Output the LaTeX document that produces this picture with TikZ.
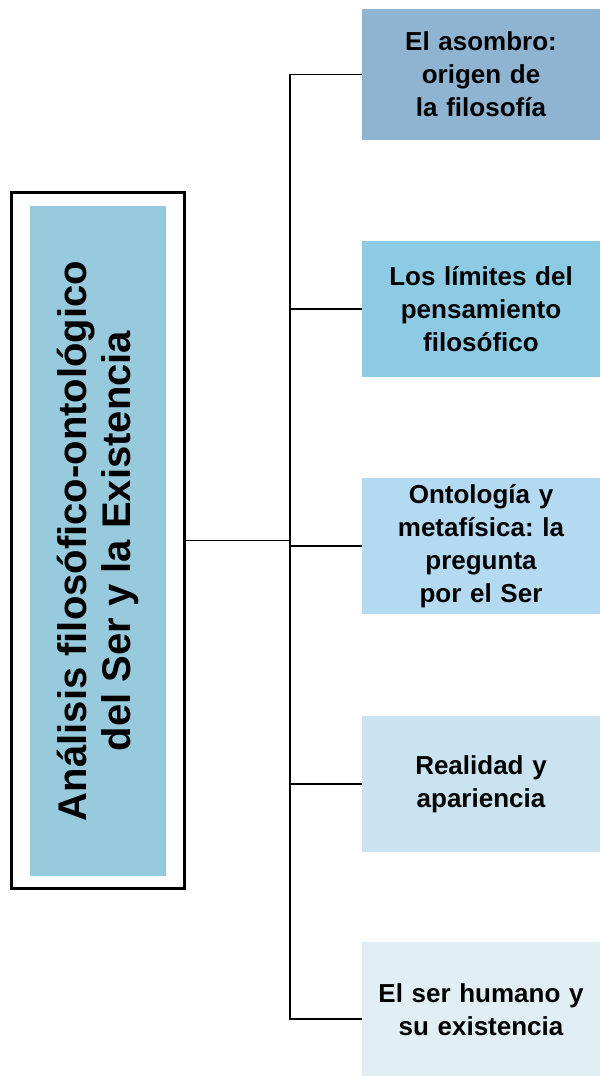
\documentclass[tikz,border=0pt]{standalone}
\usepackage{fontspec}
\setmainfont{Liberation Sans}
\usetikzlibrary{calc}
\usetikzlibrary{positioning}
\frenchspacing

\definecolor{titulofondo}{HTML}{98CADD}
\definecolor{temauno}{HTML}{8EB4D2}
\definecolor{temados}{HTML}{8DCAE4}
\definecolor{tematres}{HTML}{B4DAF1}
\definecolor{temacuatro}{HTML}{C9E3F1}
\definecolor{temacinco}{HTML}{E1EFF5}

\begin{document}
\begin{tikzpicture}[%
  x=1pt, y=1pt,
  tema/.style={rectangle, minimum width=238pt, minimum height=136pt,
    inner sep=0pt, text width=230pt, align=center,
    font=\fontsize{26}{33}\selectfont\bfseries},
  enlace/.style={line width=1.6pt},
]

  \useasboundingbox (0,0) rectangle (600,-1076);

  % bloque del titulo
  \node[fill=titulofondo, minimum width=136pt, minimum height=670pt,
    inner sep=0pt] (fondo) at (98,-541) {};
  \node[rotate=90, align=center,
    font=\fontsize{40}{44}\selectfont\bfseries] (titulo) at (fondo.center)
    {Análisis filosófico-ontológico\\del Ser y la Existencia};
  \node[draw, line width=2.2pt, minimum width=173pt, minimum height=696pt,
    inner sep=0pt] (marco) at (98,-540.5) {};

  % temas
  \node[tema, fill=temauno, minimum height=131pt] (b1) at (481,-74.5)
    {El asombro:\\origen de\\la filosofía};
  \node[tema, fill=temados] (b2) at (481,-309)
    {Los límites del\\pensamiento\\filosófico};
  \node[tema, fill=tematres] (b3) at (481,-546)
    {Ontología y\\metafísica: la\\pregunta\\por el Ser};
  \node[tema, fill=temacuatro] (b4) at (481,-784)
    {Realidad y\\apariencia};
  \node[tema, fill=temacinco] (b5) at (481,-1010)
    {El ser humano y\\su existencia};

  % conexiones
  \coordinate (lomo) at (290,0);
  \coordinate (c5) at ($(b5.west)+(0,-9)$);

  \draw[enlace] (marco.east) -- (marco.east -| lomo);
  \draw[enlace] (b1.west) -- (b1.west -| lomo) -- (c5 -| lomo) -- (c5);
  \foreach \n in {b2,b3,b4}
    \draw[enlace] (\n.west) -- (\n.west -| lomo);

\end{tikzpicture}
\end{document}
